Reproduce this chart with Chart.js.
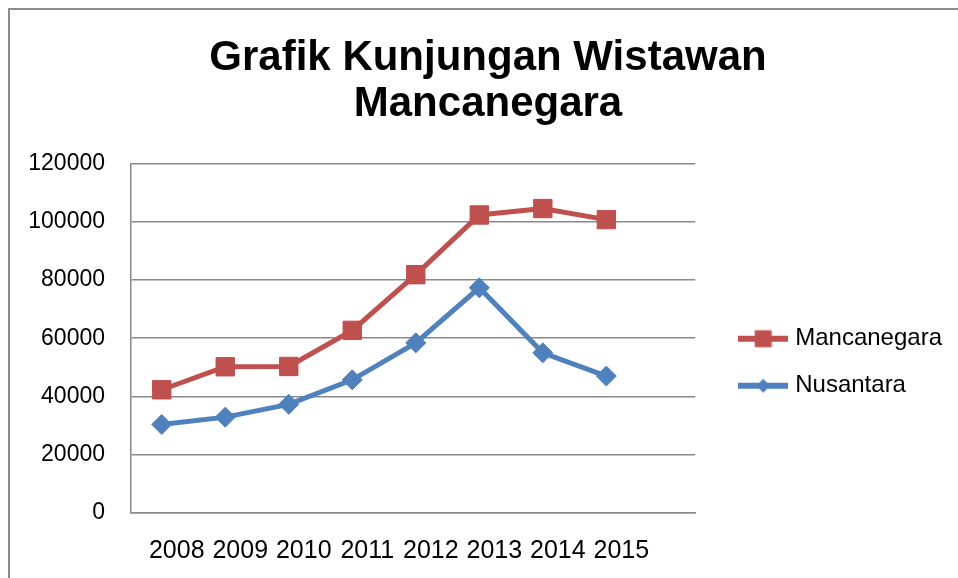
<!DOCTYPE html>
<html>
<head>
<meta charset="utf-8">
<script src="https://cdn.jsdelivr.net/npm/chart.js@4.4.1/dist/chart.umd.min.js"></script>
<style>
  body { margin: 0; background: #fff; overflow: hidden; }
  #frame { position: absolute; left: 8px; top: 8px; width: 1000px; height: 700px; border-left: 2px solid #8d8d8d; border-top: 2px solid #8d8d8d; }
  #grafik { position: absolute; left: 0; top: 0; }
</style>
</head>
<body>
<div id="frame"></div>
<canvas id="grafik" width="958" height="578"></canvas>
<script>
// data
const tahun = ['2008', '2009', '2010', '2011', '2012', '2013', '2014', '2015'];
const mancanegara = [42300, 50200, 50300, 62700, 81800, 102300, 104500, 100700];
const nusantara = [30400, 32900, 37300, 45700, 58400, 77300, 55000, 47000];
const yTicks = [0, 20000, 40000, 60000, 80000, 100000, 120000];

const merah = '#C0504D';
const biru = '#4F81BD';
const abu = '#898989';
const font = 'Liberation Sans, Arial, sans-serif';

// ikon legenda: garis + penanda
function ikon(warna, bentuk) {
  const c = document.createElement('canvas');
  c.width = 50; c.height = 20;
  const g = c.getContext('2d');
  g.fillStyle = warna;
  g.fillRect(0, 7, 50, 6);
  if (bentuk === 'kotak') {
    g.fillRect(16.5, 1.5, 17, 17);
  } else {
    g.beginPath();
    g.moveTo(25, 3); g.lineTo(32, 10); g.lineTo(25, 17); g.lineTo(18, 10);
    g.closePath(); g.fill();
  }
  return c;
}
const ikonLegenda = [ikon(merah, 'kotak'), ikon(biru, 'wajik')];

const titik = arr => arr.map((v, i) => ({ x: i, y: v }));

const ctx = document.getElementById('grafik').getContext('2d');
new Chart(ctx, {
  type: 'line',
  data: {
    datasets: [{
      label: 'Mancanegara',
      data: titik(mancanegara),
      borderColor: merah,
      backgroundColor: merah,
      borderWidth: 5,
      pointStyle: 'rect',
      pointRadius: 13,
      pointHoverRadius: 13,
      pointBackgroundColor: merah,
      pointBorderColor: merah,
      pointBorderWidth: 1
    }, {
      label: 'Nusantara',
      data: titik(nusantara),
      borderColor: biru,
      backgroundColor: biru,
      borderWidth: 5,
      pointStyle: 'rectRot',
      pointRadius: 10,
      pointHoverRadius: 10,
      pointBackgroundColor: biru,
      pointBorderColor: biru,
      pointBorderWidth: 1
    }]
  },
  options: {
    responsive: false,
    animation: false,
    layout: { padding: { left: 24, right: 6, top: 10, bottom: 0 } },
    plugins: {
      title: {
        display: true,
        text: ['Grafik Kunjungan Wistawan', 'Mancanegara'],
        color: '#000',
        font: { family: font, size: 42, weight: 'bold', lineHeight: 1.1 },
        padding: { top: 25, bottom: 36 }
      },
      legend: {
        position: 'right',
        fullSize: false,
        maxWidth: 232,
        title: {
          display: true,
          text: ' ',
          font: { size: 10, lineHeight: 1.2 },
          padding: { top: 36, bottom: 0 }
        },
        labels: {
          usePointStyle: true,
          pointStyleWidth: 40,
          padding: 23,
          color: '#000',
          font: { family: font, size: 24 },
          generateLabels: chart => {
            const items = Chart.defaults.plugins.legend.labels.generateLabels(chart);
            items.forEach((it, i) => { it.pointStyle = ikonLegenda[i]; });
            return items;
          }
        }
      },
      tooltip: { enabled: false }
    },
    scales: {
      x: {
        type: 'linear',
        min: -0.484,
        max: 8.4,
        afterFit: s => { s.height = 65; },
        grid: { display: false, drawTicks: false },
        border: { display: true, color: abu, width: 1.5 },
        ticks: {
          stepSize: 1,
          includeBounds: false,
          autoSkip: false,
          padding: 23,
          labelOffset: 15,
          color: '#000',
          font: { family: font, size: 25 },
          callback: v => tahun[v] ?? ''
        }
      },
      y: {
        min: 0,
        max: 120000,
        afterBuildTicks: s => { s.ticks = yTicks.map(v => ({ value: v })); },
        afterFit: s => { s.width = 107; },
        grid: { color: abu, lineWidth: 1.5, drawTicks: false },
        border: { display: true, color: abu, width: 1.5 },
        ticks: {
          padding: 26,
          color: '#000',
          font: { family: font, size: 23 },
          callback: v => String(v)
        }
      },
      jarak: {
        type: 'linear',
        position: 'right',
        grid: { display: false, drawTicks: false },
        border: { display: false },
        ticks: { display: false },
        afterFit: s => { s.width = 25; }
      }
    }
  }
});
</script>
</body>
</html>
